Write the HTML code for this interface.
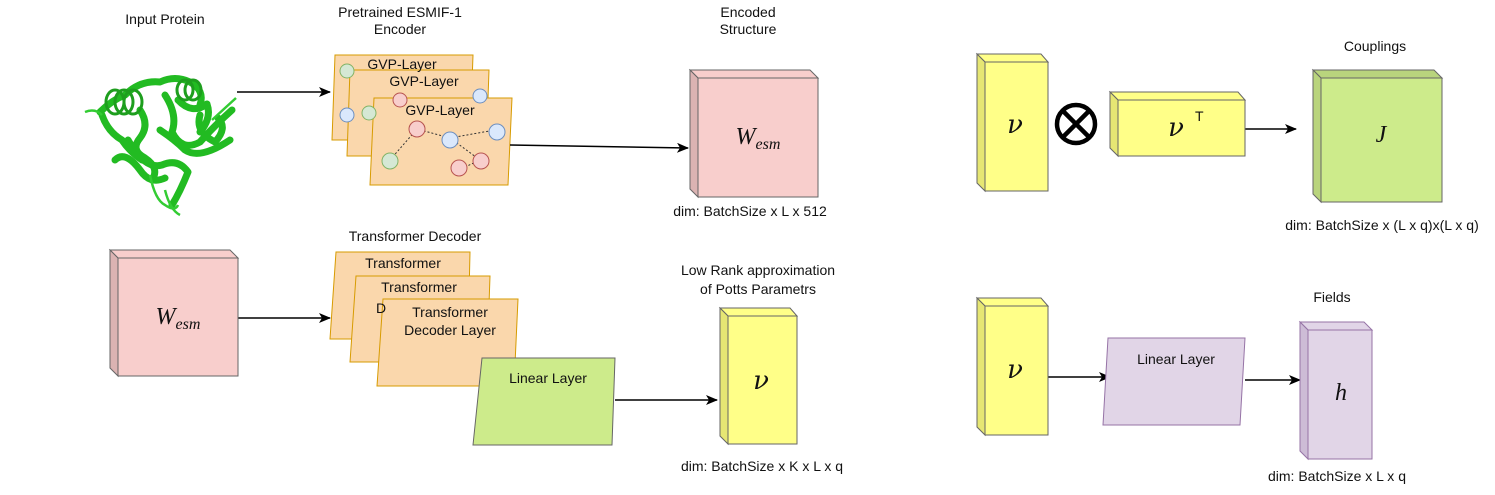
<!DOCTYPE html>
<html><head><meta charset="utf-8"><style>
body{margin:0;background:#fff;}
svg text{font-family:"Liberation Sans",sans-serif;font-size:14px;fill:#111;}
.m{font-family:"Liberation Serif",serif;font-style:italic;font-size:24px;}
.v{font-family:"DejaVu Serif","Liberation Serif",serif;font-style:italic;font-size:26px;}
</style></head><body>
<svg width="1495" height="490" viewBox="0 0 1495 490" xmlns="http://www.w3.org/2000/svg">
<defs><marker id="a" markerWidth="12" markerHeight="10" refX="11" refY="5" orient="auto" markerUnits="userSpaceOnUse"><path d="M0,0 L12,5 L0,10 L3,5 Z" fill="#000"/></marker></defs>

<!-- protein -->
<g fill="none" stroke="#22bb22" stroke-width="7" stroke-linejoin="round" stroke-linecap="round">
<path d="M100,112 Q112,100 125,95 Q140,80 160,82 Q175,75 190,82 Q205,90 200,105"/>
<path d="M140,110 Q150,125 140,138 Q130,150 145,158 Q160,168 152,180"/>
<path d="M165,95 Q178,115 172,132 Q182,152 200,142 Q215,125 232,110"/>
<path d="M128,140 Q145,170 162,165 Q178,158 188,172 Q180,192 172,205"/>
<path d="M200,115 Q195,132 215,142 Q228,128 218,118"/>
<path d="M102,115 Q108,132 122,140 Q130,152 142,160"/>
<path d="M178,100 Q192,115 207,104 Q212,118 200,132"/>
<path d="M160,130 Q175,140 185,150 Q200,160 230,140"/>
<path d="M115,160 Q125,150 140,170 Q150,185 165,178"/>
</g>
<g fill="none" stroke="#1e9e1e" stroke-width="3">
<ellipse cx="115" cy="102" rx="9" ry="12"/><ellipse cx="124" cy="102" rx="9" ry="12"/><ellipse cx="133" cy="102" rx="9" ry="12"/>
<ellipse cx="185" cy="90" rx="8" ry="10"/><ellipse cx="193" cy="90" rx="8" ry="10"/>
</g>
<g fill="none" stroke="#33cc33" stroke-width="2.5"><path d="M150,175 Q155,200 165,205 Q175,212 178,205"/><path d="M165,190 Q170,210 180,215"/><path d="M212,120 Q225,108 236,98"/><path d="M85,112 Q95,108 102,115"/></g>

<text x="165" y="24" text-anchor="middle">Input Protein</text>
<text x="400" y="17" text-anchor="middle">Pretrained ESMIF-1</text>
<text x="400" y="34" text-anchor="middle">Encoder</text>
<text x="748" y="17" text-anchor="middle">Encoded</text>
<text x="748" y="34" text-anchor="middle">Structure</text>

<!-- GVP layers -->
<g stroke="#d79b00" stroke-width="1" fill="#fad7ac">
<polygon points="335,55 473,55 470,140 332,140"/>
<polygon points="350,70 489,70 486,156 347,156"/>
<polygon points="374,98 512,98 508,185 370,185"/>
</g>
<circle cx="347" cy="71" r="7" fill="#d5e8d4" stroke="#82b366"/>
<circle cx="347" cy="115" r="7" fill="#dae8fc" stroke="#6c8ebf"/>
<circle cx="369" cy="113" r="7" fill="#d5e8d4" stroke="#82b366"/>
<circle cx="480" cy="96" r="7" fill="#dae8fc" stroke="#6c8ebf"/>
<circle cx="400" cy="100" r="7" fill="#f8cecc" stroke="#b85450"/>
<g stroke="#333" stroke-dasharray="2,2" fill="none"><path d="M390,160 L417,129 L450,138 L495,130 M450,138 L480,160 L463,168"/></g>
<circle cx="390" cy="161" r="8" fill="#d5e8d4" stroke="#82b366"/>
<circle cx="417" cy="129" r="8" fill="#f8cecc" stroke="#b85450"/>
<circle cx="450" cy="140" r="8" fill="#dae8fc" stroke="#6c8ebf"/>
<circle cx="497" cy="132" r="8" fill="#dae8fc" stroke="#6c8ebf"/>
<circle cx="481" cy="161" r="8" fill="#f8cecc" stroke="#b85450"/>
<circle cx="459" cy="168" r="8" fill="#f8cecc" stroke="#b85450"/>
<text x="402" y="69" text-anchor="middle">GVP-Layer</text>
<text x="424" y="86" text-anchor="middle">GVP-Layer</text>
<text x="440" y="115" text-anchor="middle">GVP-Layer</text>

<!-- arrows -->
<g stroke="#000" stroke-width="1.5" marker-end="url(#a)">
<line x1="237" y1="92" x2="330" y2="92"/>
<line x1="510" y1="145" x2="688" y2="148"/>
<line x1="237" y1="318" x2="330" y2="318"/>
<line x1="615" y1="400" x2="717" y2="400"/>
<line x1="1242" y1="129" x2="1296" y2="129"/>
<line x1="1048" y1="377" x2="1110" y2="377"/>
<line x1="1245" y1="380" x2="1300" y2="380"/>
</g>

<!-- cubes -->
<g stroke="#666" stroke-width="1">
<polygon points="690,70 810,70 818,78 698,78" fill="#f8cecc"/>
<polygon points="690,70 698,78 698,197 690,189" fill="#dbb3b2"/>
<rect x="698" y="78" width="120" height="119" fill="#f8cecc"/>
<polygon points="110,250 230,250 238,258 118,258" fill="#f8cecc"/>
<polygon points="110,250 118,258 118,376 110,368" fill="#dbb3b2"/>
<rect x="118" y="258" width="120" height="118" fill="#f8cecc"/>
<polygon points="977,54 1041,54 1048,62 985,62" fill="#ffff88"/>
<polygon points="977,54 985,62 985,191 977,183" fill="#e6e673"/>
<rect x="985" y="62" width="63" height="129" fill="#ffff88"/>
<polygon points="1110,92 1238,92 1245,100 1118,100" fill="#ffff88"/>
<polygon points="1110,92 1118,100 1118,156 1110,148" fill="#e6e673"/>
<rect x="1118" y="100" width="127" height="56" fill="#ffff88"/>
<polygon points="1313,70 1434,70 1442,78 1321,78" fill="#b9d47d"/>
<polygon points="1313,70 1321,78 1321,202 1313,194" fill="#b9d47d"/>
<rect x="1321" y="78" width="121" height="124" fill="#cdeb8b"/>
<polygon points="977,298 1041,298 1048,306 985,306" fill="#ffff88"/>
<polygon points="977,298 985,306 985,435 977,427" fill="#e6e673"/>
<rect x="985" y="306" width="63" height="129" fill="#ffff88"/>
<polygon points="720,308 790,308 797,316 728,316" fill="#ffff88"/>
<polygon points="720,308 728,316 728,444 720,436" fill="#e6e673"/>
<rect x="728" y="316" width="69" height="128" fill="#ffff88"/>
</g>
<g stroke="#9673a6" stroke-width="1">
<polygon points="1300,322 1364,322 1372,330 1308,330" fill="#e1d5e7"/>
<polygon points="1300,322 1308,330 1308,459 1300,451" fill="#cdbcd6"/>
<rect x="1308" y="330" width="64" height="129" fill="#e1d5e7"/>
<polygon points="1108,338 1245,338 1240,425 1103,425" fill="#e1d5e7"/>
</g>

<text class="m" x="758" y="144" text-anchor="middle">W<tspan font-size="16" dy="5">esm</tspan></text>
<text class="m" x="178" y="324" text-anchor="middle">W<tspan font-size="16" dy="5">esm</tspan></text>
<text class="v" x="1015" y="133" text-anchor="middle">ν</text>
<text class="v" x="1176" y="136" text-anchor="middle">ν</text>
<text x="1195" y="121" font-size="11">T</text>
<text class="m" x="1381" y="142" text-anchor="middle" font-size="20">J</text>
<text class="v" x="1015" y="378" text-anchor="middle">ν</text>
<text class="v" x="761" y="389" text-anchor="middle">ν</text>
<text class="m" x="1341" y="400" text-anchor="middle" font-size="20">h</text>

<circle cx="1076" cy="124" r="19" fill="none" stroke="#000" stroke-width="4.5"/>
<path d="M1063,111 L1089,137 M1089,111 L1063,137" stroke="#000" stroke-width="4.5"/>

<text x="750" y="216" text-anchor="middle" font-size="12">dim: BatchSize x L x 512</text>

<text x="415" y="241" text-anchor="middle">Transformer Decoder</text>
<g stroke="#d79b00" stroke-width="1" fill="#fad7ac">
<polygon points="336,252 470,252 468,339 330,339"/>
<polygon points="356,276 490,276 487,362 350,362"/>
<polygon points="383,299 518,299 514,386 377,386"/>
</g>
<text x="403" y="268" text-anchor="middle">Transformer</text>
<text x="419" y="292" text-anchor="middle">Transformer</text>
<text x="376" y="313">D</text>
<text x="450" y="317" text-anchor="middle">Transformer</text>
<text x="450" y="335" text-anchor="middle">Decoder Layer</text>
<polygon points="482,358 615,358 612,445 473,445" fill="#cdeb8b" stroke="#666"/>
<text x="548" y="383" text-anchor="middle">Linear Layer</text>

<text x="758" y="275" text-anchor="middle">Low Rank approximation</text>
<text x="758" y="294" text-anchor="middle">of Potts Parametrs</text>
<text x="762" y="471" text-anchor="middle" font-size="12">dim: BatchSize x K x L x q</text>

<text x="1375" y="51" text-anchor="middle">Couplings</text>
<text x="1382" y="230" text-anchor="middle" font-size="12">dim: BatchSize x (L x q)x(L x q)</text>
<text x="1332" y="302" text-anchor="middle">Fields</text>
<text x="1176" y="364" text-anchor="middle">Linear Layer</text>
<text x="1337" y="481" text-anchor="middle" font-size="12">dim: BatchSize x L x q</text>
</svg>
</body></html>
